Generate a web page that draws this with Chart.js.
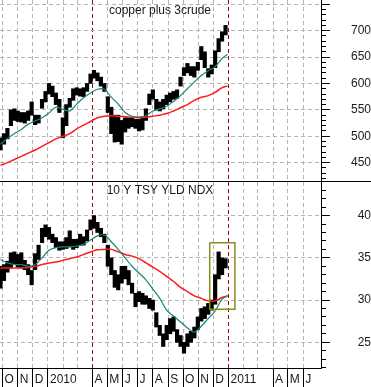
<!DOCTYPE html>
<html><head><meta charset="utf-8">
<script src="https://cdn.jsdelivr.net/npm/chart.js@4/dist/chart.umd.min.js"></script>
<style>html,body{margin:0;padding:0;background:#fff;}canvas{display:block;}</style>
</head><body>
<canvas id="c" width="371" height="387"></canvas>
<script>
// ---------------- DATA ----------------
// x values are days counted from 1 Oct 2009
const firstWeekDay = -4;          // first weekly bar: 27 Sep 2009
const weekStep = 7;
const panelTitles = ['copper plus 3crude', '10 Y TSY YLD NDX'];

// copper plus 3crude: weekly low / high
const copperLow  = [474,485,495,520,530,528,527,525,530,540,522,525,553,565,580,575,560,545,497,520,
                    555,568,578,576,575,585,600,610,605,595,585,545,505,489,490,485,508,515,518,515,
                    510,512,530,560,570,550,548,552,560,565,570,572,595,615,620,615,612,625,645,630,
                    612,618,630,660,680,692];
const copperHigh = [497,505,515,550,552,548,545,545,548,565,540,540,570,585,600,595,582,570,535,560,
                    572,590,592,590,592,600,618,625,620,612,600,575,555,540,540,530,535,535,535,532,
                    532,535,552,580,588,570,565,570,578,582,585,588,612,630,638,632,632,640,670,660,
                    628,635,662,685,698,710];

// 10 Y TSY YLD NDX: weekly low / high
const yieldLow  = [31.4,32.3,33.3,33.8,34.2,33.9,33.8,33.6,33.0,31.8,33.6,34.8,36.8,37.5,37.2,36.8,36.2,35.9,36.0,36.1,
                   36.3,36.0,36.2,36.5,36.5,37.0,38.3,38.5,38.0,37.5,36.8,34.0,33.0,31.5,31.2,32.0,32.5,31.8,30.8,29.2,
                   29.8,29.5,29.5,29.0,28.8,26.8,25.8,24.5,25.3,26.0,26.3,25.0,24.5,23.7,24.5,25.0,25.5,26.5,27.5,27.8,
                   28.3,28.8,29.5,32.5,33.0,33.8];
const yieldHigh = [34.0,34.2,34.6,35.6,35.7,35.4,35.6,34.7,34.2,33.5,35.5,36.5,38.5,38.9,38.6,37.8,37.4,36.9,36.9,37.4,
                   38.2,37.2,37.2,37.8,37.5,38.3,39.5,40.0,39.2,38.5,37.8,36.5,35.0,33.5,33.0,34.0,34.0,33.5,32.0,30.8,
                   31.0,30.8,30.5,30.2,30.0,28.5,27.0,26.0,27.0,27.8,28.0,26.5,25.8,25.0,26.0,26.3,26.8,28.0,29.0,29.2,
                   29.6,30.0,33.0,35.7,35.0,34.9];

// moving averages, read every two weeks (plus the last point)
const maDays = [-4,10,24,38,52,66,80,94,108,122,136,150,164,178,192,206,220,234,248,262,
                276,290,304,318,332,346,360,374,388,402,416,430,444,455];
const copperTeal = [485,496,505,513,523,529,535,544,555,551,548,561,573,582,589,589,574,561,545,538,
                    537,539,548,552,557,566,577,590,603,615,624,632,647,655];
const copperRed  = [445,450,456,462,468,474,481,488,495,500,505,514,521,528,535,538,539,538,537,536,
                    535,536,538,540,543,548,554,560,568,574,577,583,592,595];
const yieldTeal  = [34.8,34.4,34.2,34.2,34.0,34.2,35.0,35.9,36.2,36.3,36.3,36.4,36.6,37.1,37.6,37.7,36.9,36.0,35.0,34.0,
                    33.2,32.4,31.3,30.2,28.8,28.1,27.4,26.7,26.2,26.9,27.8,28.7,30.1,30.5];
const yieldRed   = [33.8,33.8,33.8,33.8,33.85,34.0,34.2,34.4,34.5,34.7,34.9,35.1,35.4,35.7,35.95,36.0,36.0,35.7,35.4,35.2,
                    34.9,34.4,33.9,33.4,32.8,32.2,31.5,31.0,30.5,30.2,29.9,29.9,30.3,30.5];

// highlight box on the yield panel
const boxDays  = [419, 470];
const boxRange = [28.9, 36.8];

// x axis: month starts (days from 1 Oct 2009) and their labels
const monthStartDays = [0,31,61,92,123,151,182,212,243,273,304,335,365,396,426,457,488,516,547,577,608];
const monthLabels    = ['O','N','D','2010','','','A','M','J','J','A','S','O','N','D','2011','','','A','M','J'];
const markerDays     = [182, 457];   // red dashed verticals (Apr 2010, Jan 2011)
const xRange = [-5, 644];

// y axes
const topTickLabels = [450, 500, 550, 600, 650, 700];
const topMajorStep = 50, topMinorStep = 10, topRange = [415.3, 758.1];
const botTickLabels = [25, 30, 35, 40];
const botMajorStep = 5, botMinorStep = 1, botRange = [21.95, 44.1];

// ---------------- BUILD ----------------
const weekDays = copperLow.map((_, i) => firstWeekDay + i * weekStep);
const rangeData = (lo, hi) => lo.map((v, i) => ({x: weekDays[i], y: [v, hi[i]]}));
const lineData = (vals) => vals.map((v, i) => ({x: maDays[i], y: v}));
const boxData = [
  {x: boxDays[0], y: boxRange[1]}, {x: boxDays[1], y: boxRange[1]},
  {x: boxDays[1], y: boxRange[0]}, {x: boxDays[0], y: boxRange[0]},
  {x: boxDays[0], y: boxRange[1]}
];

const FONT = "'Liberation Sans', Arial, sans-serif";
Chart.defaults.font.family = FONT;
Chart.defaults.font.size = 12;
Chart.defaults.color = '#1a1a1a';

const GRID = '#b4b4b4';
const TEAL = '#14877b';
const RED = '#ff1a1a';

function yAxis(range, labels, majorStep, minorStep, weight, pad) {
  const isMajor = (v) => Math.abs(v / majorStep - Math.round(v / majorStep)) < 1e-6;
  return {
    type: 'linear', position: 'right', stack: 'panels', stackWeight: weight,
    min: range[0], max: range[1],
    afterBuildTicks: (s) => {
      const t = [];
      const start = Math.ceil(range[0] / minorStep) * minorStep;
      for (let v = start; v <= range[1] + 1e-9; v += minorStep) t.push({value: Math.round(v * 100) / 100});
      s.ticks = t;
    },
    afterFit: (s) => { s.width = 50; s.paddingTop = 0; s.paddingBottom = 0; },
    ticks: {
      crossAlign: 'far', padding: pad, autoSkip: false,
      callback: (v) => labels.includes(v) ? String(v) : '',
      font: {size: 12, family: FONT}, color: '#1a1a1a'
    },
    grid: {
      drawOnChartArea: true, drawTicks: true, tickLength: 9, lineWidth: 1,
      color: (c) => isMajor(c.tick.value) ? GRID : 'rgba(0,0,0,0)',
      tickColor: '#000',
      tickBorderDash: (c) => isMajor(c.tick.value) ? [] : [4, 40]
    },
    border: {display: true, color: '#000', width: 1, dash: [4, 3]}
  };
}

const panelDecor = {
  id: 'panelDecor',
  afterDraw(chart) {
    const {ctx} = chart;
    const yt = chart.scales.yTop, yb = chart.scales.yBot;
    ctx.save();
    ctx.strokeStyle = '#000';
    ctx.lineWidth = 1;
    const yl = Math.round(yt.bottom) + 0.5;
    ctx.beginPath(); ctx.moveTo(0, yl); ctx.lineTo(chart.width, yl); ctx.stroke();
    ctx.fillStyle = '#1a1a1a';
    ctx.font = '12px ' + FONT;
    ctx.textAlign = 'center';
    ctx.textBaseline = 'middle';
    const cx = chart.chartArea.left + 160;
    ctx.fillText(panelTitles[0], cx, yt.top + 11);
    ctx.fillText(panelTitles[1], cx, yb.top + 10);
    ctx.restore();
  }
};

new Chart(document.getElementById('c'), {
  type: 'bar',
  data: {
    datasets: [
      {type: 'line', data: boxData, yAxisID: 'yBot', xAxisID: 'x', borderColor: '#8c8c1c', borderWidth: 1.5, pointRadius: 0, tension: 0, fill: false},
      {type: 'line', data: lineData(copperTeal), yAxisID: 'yTop', xAxisID: 'x', borderColor: TEAL, borderWidth: 1.2, pointRadius: 0, tension: 0.35, fill: false},
      {type: 'line', data: lineData(copperRed), yAxisID: 'yTop', xAxisID: 'x', borderColor: RED, borderWidth: 1.5, pointRadius: 0, tension: 0.35, fill: false},
      {type: 'line', data: lineData(yieldTeal), yAxisID: 'yBot', xAxisID: 'x', borderColor: TEAL, borderWidth: 1.2, pointRadius: 0, tension: 0.35, fill: false},
      {type: 'line', data: lineData(yieldRed), yAxisID: 'yBot', xAxisID: 'x', borderColor: RED, borderWidth: 1.5, pointRadius: 0, tension: 0.35, fill: false},
      {type: 'bar', data: rangeData(copperLow, copperHigh), yAxisID: 'yTop', xAxisID: 'x', backgroundColor: '#000', borderWidth: 0, barThickness: 3.5, grouped: false},
      {type: 'bar', data: rangeData(yieldLow, yieldHigh), yAxisID: 'yBot', xAxisID: 'x', backgroundColor: '#000', borderWidth: 0, barThickness: 3.5, grouped: false}
    ]
  },
  options: {
    responsive: false, animation: false, devicePixelRatio: 1,
    layout: {padding: 0, autoPadding: false},
    plugins: {legend: {display: false}, tooltip: {enabled: false}, title: {display: false}},
    scales: {
      x: {
        type: 'linear', position: 'bottom', min: xRange[0], max: xRange[1], offset: false,
        afterBuildTicks: (s) => { s.ticks = monthStartDays.map(v => ({value: v})); },
        afterFit: (s) => { s.height = 19; s.paddingLeft = 0; s.paddingRight = 0; },
        ticks: {
          autoSkip: false, maxRotation: 0, minRotation: 0, align: 'start', labelOffset: 2, padding: -15,
          callback: (v, i) => monthLabels[i],
          font: {size: 12, family: FONT}, color: '#1a1a1a'
        },
        grid: {
          offset: false, drawOnChartArea: true, drawTicks: true, tickLength: 19, lineWidth: 1,
          color: (c) => markerDays.includes(c.tick.value) ? '#9a0a0a' : GRID,
          tickColor: (c) => monthLabels[c.index] === '' ? 'rgba(0,0,0,0)' : '#000',
          tickBorderDash: []
        },
        border: {display: true, color: '#000', width: 1, dash: [4, 3]}
      },
      yTop: yAxis(topRange, topTickLabels, topMajorStep, topMinorStep, 181, 17),
      yBot: yAxis(botRange, botTickLabels, botMajorStep, botMinorStep, 187, 24)
    }
  },
  plugins: [panelDecor]
});
</script>
</body></html>
